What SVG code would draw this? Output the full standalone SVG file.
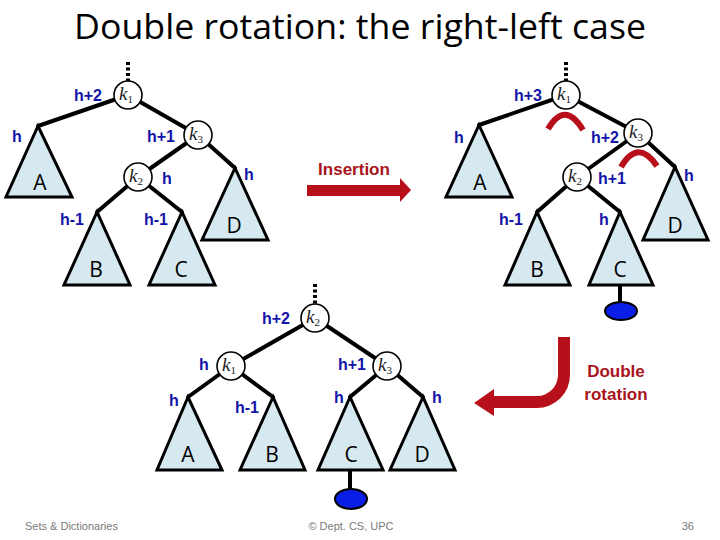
<svg xmlns="http://www.w3.org/2000/svg" width="720" height="540" viewBox="0 0 720 540">
<style>
.edge{stroke:#000;stroke-width:4;fill:none;stroke-linecap:round}
.dots{stroke:#000;stroke-width:4;stroke-dasharray:3 2.5;fill:none}
.node{fill:#fff;stroke:#000;stroke-width:1.6}
.tri{fill:#d6e9f0;stroke:#000;stroke-width:3;stroke-linejoin:miter}
.k{font-family:"Liberation Serif",serif;font-style:italic;font-size:19px;fill:#222}
.sub{font-size:11px;font-style:normal}
.lab{font-family:"Liberation Sans",Arial,sans-serif;font-weight:bold;font-size:16px;fill:#1414a8;text-anchor:middle}
.let{font-family:"Open Sans","Liberation Sans",sans-serif;font-size:21px;fill:#000;text-anchor:middle}
.red{font-family:"Liberation Sans",Arial,sans-serif;font-weight:bold;font-size:17px;fill:#a8141c;text-anchor:middle}
.arr{fill:#b8101a}
.arc{stroke:#b8101a;stroke-width:6;fill:none}
.foot{font-family:"Liberation Sans",Arial,sans-serif;font-size:11px;fill:#7a7a7a}
.leaf{fill:#0a1ee6;stroke:#000;stroke-width:2}
</style>
<rect width="720" height="540" fill="#fff"/>
<text x="360" y="39" font-family="Open Sans, Liberation Sans, sans-serif" font-size="34" text-anchor="middle" textLength="572" lengthAdjust="spacingAndGlyphs" fill="#000">Double rotation: the right-left case</text>

<g id="connectors">
<line class="dots" x1="128" y1="62" x2="128" y2="82"/>
<line class="edge" x1="128" y1="95" x2="38" y2="126"/>
<line class="edge" x1="128" y1="95" x2="198" y2="135"/>
<line class="edge" x1="198" y1="135" x2="138" y2="177"/>
<line class="edge" x1="198" y1="135" x2="235" y2="168"/>
<line class="edge" x1="138" y1="177" x2="97" y2="212"/>
<line class="edge" x1="138" y1="177" x2="182" y2="212"/>

<line class="dots" x1="566" y1="62" x2="566" y2="82"/>
<line class="edge" x1="566" y1="95" x2="479" y2="125"/>
<line class="edge" x1="566" y1="95" x2="638" y2="133"/>
<line class="edge" x1="638" y1="133" x2="577" y2="177"/>
<line class="edge" x1="638" y1="133" x2="675" y2="167"/>
<line class="edge" x1="577" y1="177" x2="537" y2="212"/>
<line class="edge" x1="577" y1="177" x2="620" y2="212"/>
<line class="edge" x1="620" y1="285" x2="620" y2="304"/>

<line class="dots" x1="315" y1="284" x2="315" y2="305"/>
<line class="edge" x1="315" y1="318" x2="231" y2="366"/>
<line class="edge" x1="315" y1="318" x2="387" y2="366"/>
<line class="edge" x1="231" y1="366" x2="188" y2="397"/>
<line class="edge" x1="231" y1="366" x2="273" y2="397"/>
<line class="edge" x1="387" y1="366" x2="350" y2="397"/>
<line class="edge" x1="387" y1="366" x2="423" y2="397"/>
<line class="edge" x1="350" y1="470" x2="350" y2="491"/>
</g>

<g id="left-tree">
<g id="L-A"><polygon class="tri" points="38,126 6,197 72,197"/><text class="let" x="40" y="190">A</text><text class="lab" x="17" y="142">h</text></g>
<g id="L-B"><polygon class="tri" points="97,212 64,285 130,285"/><text class="let" x="96" y="277">B</text><text class="lab" x="72" y="225">h-1</text></g>
<g id="L-C"><polygon class="tri" points="182,212 149,285 215,285"/><text class="let" x="181" y="277">C</text><text class="lab" x="156" y="225">h-1</text></g>
<g id="L-D"><polygon class="tri" points="235,168 202,240 268,240"/><text class="let" x="234" y="233">D</text><text class="lab" x="249" y="180">h</text></g>
<g id="L-k1"><circle class="node" cx="128" cy="95" r="14"/><text class="k" x="119" y="100">k<tspan class="sub" dy="3">1</tspan></text><text class="lab" x="88" y="101">h+2</text></g>
<g id="L-k3"><circle class="node" cx="198" cy="135" r="14"/><text class="k" x="189" y="140">k<tspan class="sub" dy="3">3</tspan></text><text class="lab" x="161" y="142">h+1</text></g>
<g id="L-k2"><circle class="node" cx="138" cy="177" r="14"/><text class="k" x="129" y="182">k<tspan class="sub" dy="3">2</tspan></text><text class="lab" x="167" y="184">h</text></g>
</g>

<g id="insertion">
<text class="red" x="354" y="175">Insertion</text>
<path class="arr" d="M307 185 L400 185 L400 178 L411 190 L400 202 L400 196 L307 196 Z"/>
</g>

<g id="right-tree">
<g id="R-A"><polygon class="tri" points="479,125 446,197 512,197"/><text class="let" x="480" y="190">A</text><text class="lab" x="459" y="143">h</text></g>
<g id="R-B"><polygon class="tri" points="537,212 505,285 570,285"/><text class="let" x="537" y="277">B</text><text class="lab" x="511" y="225">h-1</text></g>
<g id="R-C"><polygon class="tri" points="620,212 589,285 653,285"/><text class="let" x="620" y="277">C</text><text class="lab" x="604" y="225">h</text></g>
<g id="R-D"><polygon class="tri" points="675,167 643,240 708,240"/><text class="let" x="675" y="233">D</text><text class="lab" x="689" y="181">h</text></g>
<g id="R-leaf"><ellipse class="leaf" cx="621" cy="311" rx="16" ry="9"/></g>
<g id="R-k1"><circle class="node" cx="566" cy="95" r="14"/><text class="k" x="557" y="100">k<tspan class="sub" dy="3">1</tspan></text><text class="lab" x="528" y="101">h+3</text></g>
<g id="R-k3"><circle class="node" cx="638" cy="133" r="14"/><text class="k" x="629" y="138">k<tspan class="sub" dy="3">3</tspan></text><text class="lab" x="605" y="143">h+2</text></g>
<g id="R-k2"><circle class="node" cx="577" cy="177" r="14"/><text class="k" x="568" y="182">k<tspan class="sub" dy="3">2</tspan></text><text class="lab" x="612" y="184">h+1</text></g>
<path class="arc" d="M548 129 Q565 100 583 130"/>
<path class="arc" d="M621 167 Q638 138 657 166"/>
</g>

<g id="double-rotation">
<path class="arr" d="M570 337 L570 375 A33 33 0 0 1 537 408 L494 408 L494 416 L474 403 L494 389 L494 396 L537 396 A21 21 0 0 0 558 375 L558 337 Z"/>
<text class="red" x="616" y="377">Double</text>
<text class="red" x="616" y="400">rotation</text>
</g>

<g id="bottom-tree">
<g id="B-A"><polygon class="tri" points="188,397 157,470 222,470"/><text class="let" x="188" y="462">A</text><text class="lab" x="174" y="406">h</text></g>
<g id="B-B"><polygon class="tri" points="273,397 240,470 305,470"/><text class="let" x="272" y="462">B</text><text class="lab" x="247" y="413">h-1</text></g>
<g id="B-C"><polygon class="tri" points="350,397 318,470 383,470"/><text class="let" x="351" y="462">C</text><text class="lab" x="339" y="403">h</text></g>
<g id="B-D"><polygon class="tri" points="423,397 390,470 455,470"/><text class="let" x="422" y="462">D</text><text class="lab" x="437" y="403">h</text></g>
<g id="B-leaf"><ellipse class="leaf" cx="351" cy="499" rx="16" ry="10"/></g>
<g id="B-k2"><circle class="node" cx="315" cy="318" r="14"/><text class="k" x="306" y="323">k<tspan class="sub" dy="3">2</tspan></text><text class="lab" x="276" y="324">h+2</text></g>
<g id="B-k1"><circle class="node" cx="231" cy="366" r="14"/><text class="k" x="222" y="371">k<tspan class="sub" dy="3">1</tspan></text><text class="lab" x="204" y="370">h</text></g>
<g id="B-k3"><circle class="node" cx="387" cy="366" r="14"/><text class="k" x="378" y="371">k<tspan class="sub" dy="3">3</tspan></text><text class="lab" x="352" y="370">h+1</text></g>
</g>

<g id="footer">
<text class="foot" x="25" y="530">Sets &amp; Dictionaries</text>
<text class="foot" x="351" y="530" text-anchor="middle">© Dept. CS, UPC</text>
<text class="foot" x="694" y="530" text-anchor="end">36</text>
</g>
</svg>
